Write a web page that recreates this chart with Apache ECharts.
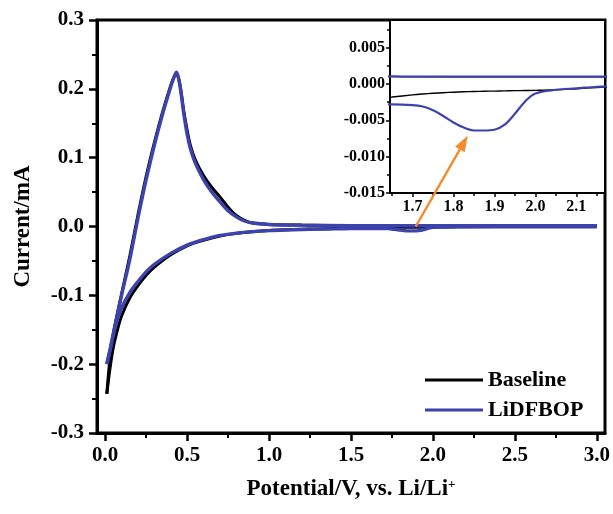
<!DOCTYPE html>
<html>
<head>
<meta charset="utf-8">
<script src="https://cdn.jsdelivr.net/npm/echarts@6/dist/echarts.min.js"></script>
<style>
  html, body { margin: 0; padding: 0; background: #fff; }
  #chart { width: 613px; height: 514px; }
</style>
</head>
<body>
<div id="chart"></div>
<script>
// Cyclic voltammetry, first cycle: cathodic sweep 3.0 V -> 0.01 V, then anodic sweep back to 3.0 V.
const cathodicPotential = [3.0, 2.6, 2.2, 2.15, 2.1, 2.05, 2.0, 1.975, 1.95, 1.925, 1.9, 1.875, 1.85, 1.825,
  1.8, 1.775, 1.75, 1.725, 1.7, 1.65, 1.6, 1.5, 1.4, 1.3, 1.2, 1.1, 1.0, 0.9, 0.8, 0.7, 0.6, 0.5, 0.4,
  0.3, 0.25, 0.2, 0.15, 0.1, 0.075, 0.05, 0.03, 0.01];
const baselineCathodic = [-0.0003, -0.0003, -0.0004, -0.0005, -0.00065, -0.0008, -0.00088, -0.0009, -0.00092,
  -0.00095, -0.00098, -0.001, -0.00104, -0.00108, -0.00113, -0.0012, -0.00128, -0.00138, -0.0015, -0.0018,
  -0.0021, -0.0026, -0.003, -0.0035, -0.004, -0.0047, -0.0057, -0.0075, -0.01, -0.014, -0.02, -0.028, -0.041,
  -0.059, -0.071, -0.086, -0.104, -0.13, -0.15, -0.175, -0.205, -0.243];
const lidfbopCathodic = [-0.0002, -0.0002, -0.0003, -0.00038, -0.0006, -0.0008, -0.0013, -0.0024, -0.0041,
  -0.0056, -0.0063, -0.0064, -0.0064, -0.006, -0.0053, -0.0044, -0.0036, -0.0031, -0.0029, -0.0028,
  -0.0028, -0.003, -0.0034, -0.0038, -0.0043, -0.005, -0.006, -0.0075, -0.0098, -0.013, -0.019, -0.027, -0.039,
  -0.055, -0.066, -0.08, -0.096, -0.118, -0.135, -0.157, -0.18, -0.2];

const anodicPotential = [0.01, 0.03, 0.05, 0.1, 0.15, 0.2, 0.25, 0.3, 0.35, 0.4, 0.42, 0.435, 0.45, 0.465,
  0.48, 0.5, 0.52, 0.55, 0.6, 0.65, 0.7, 0.75, 0.8, 0.85, 0.9, 1.0, 1.2, 1.5, 1.8, 2.0, 2.5, 3.0];
const baselineAnodic = [-0.243, -0.19, -0.155, -0.098, -0.043, 0.017, 0.073, 0.122, 0.166, 0.205, 0.217, 0.222,
  0.213, 0.193, 0.167, 0.14, 0.118, 0.097, 0.074, 0.057, 0.043, 0.028, 0.016, 0.009, 0.005, 0.003, 0.002,
  0.0012, 0.001, 0.001, 0.001, 0.001];
const lidfbopAnodic = [-0.2, -0.178, -0.155, -0.1, -0.048, 0.012, 0.068, 0.118, 0.163, 0.203, 0.217, 0.224,
  0.213, 0.19, 0.163, 0.134, 0.113, 0.092, 0.068, 0.05, 0.036, 0.023, 0.014, 0.008, 0.005, 0.003, 0.002,
  0.0012, 0.001, 0.001, 0.001, 0.001];

// Tick positions
const mainXTicks = [0, 0.5, 1.0, 1.5, 2.0, 2.5, 3.0];
const mainXMinor = [0.25, 0.75, 1.25, 1.75, 2.25, 2.75];
const mainYTicks = [-0.3, -0.2, -0.1, 0, 0.1, 0.2, 0.3];
const mainYMinor = [-0.25, -0.15, -0.05, 0.05, 0.15, 0.25];
const insetXTicks = [1.7, 1.8, 1.9, 2.0, 2.1];
const insetXMinor = [1.65, 1.75, 1.85, 1.95, 2.05, 2.15];
const insetYTicks = [-0.015, -0.01, -0.005, 0, 0.005];
const insetYMinor = [-0.0125, -0.0075, -0.0025, 0.0025, 0.0075];

// Pointer from the reduction feature on the main curve to the zoomed view
const arrowTail = [1.895, 0.0];      // main axes
const arrowHead = [1.835, -0.0071];  // inset axes

const seriesNames = ['Baseline', 'LiDFBOP'];
const seriesColors = ['#000000', '#3d43ad'];

const FONT = '"Liberation Serif", "Times New Roman", serif';
const BLACK = '#000';

function pairs(xs, ys) { return xs.map((x, i) => [x, ys[i]]); }

function majorAxis(o) {
  return Object.assign({
    type: 'value',
    splitLine: { show: false },
    axisLine: { show: true, onZero: false, lineStyle: { color: BLACK, width: o.lineWidth } },
    axisTick: { show: true, inside: false, length: o.tickLen, customValues: o.ticks,
                lineStyle: { color: BLACK, width: o.tickWidth } },
    axisLabel: { customValues: o.ticks, formatter: v => v.toFixed(o.digits), margin: o.margin,
                 fontFamily: FONT, fontWeight: 'bold', fontSize: o.fontSize, color: BLACK },
  }, o.extra || {});
}
function minorAxis(gridIndex, position, min, max, ticks, len, width) {
  return {
    type: 'value', gridIndex, position, offset: 0, min, max,
    splitLine: { show: false },
    axisLine: { show: false, onZero: false },
    axisLabel: { show: false },
    axisTick: { show: true, inside: false, length: len, customValues: ticks,
                lineStyle: { color: BLACK, width } },
  };
}

const MAIN_X = [-0.05, 3.05], MAIN_Y = [-0.3, 0.3];
const INSET_X = [1.645, 2.17], INSET_Y = [-0.015, 0.0088];

const xAxis = [
  majorAxis({ ticks: mainXTicks, digits: 1, margin: 12, fontSize: 21, lineWidth: 3, tickLen: 8, tickWidth: 2.5,
    extra: { gridIndex: 0, min: MAIN_X[0], max: MAIN_X[1], position: 'bottom',
      name: 'Potential/V, vs. Li/Li{sup|+}', nameLocation: 'middle', nameGap: 45,
      nameTextStyle: { fontFamily: FONT, fontWeight: 'bold', fontSize: 23, color: BLACK,
        rich: { sup: { fontFamily: FONT, fontWeight: 'bold', fontSize: 13, color: BLACK, verticalAlign: 'top' } } } } }),
  minorAxis(0, 'bottom', MAIN_X[0], MAIN_X[1], mainXMinor, 5, 2),
  majorAxis({ ticks: insetXTicks, digits: 1, margin: 6, fontSize: 16, lineWidth: 2, tickLen: 4, tickWidth: 1.5,
    extra: { gridIndex: 1, min: INSET_X[0], max: INSET_X[1], position: 'bottom' } }),
  minorAxis(1, 'bottom', INSET_X[0], INSET_X[1], insetXMinor, 3, 1.5),
];
const yAxis = [
  majorAxis({ ticks: mainYTicks, digits: 1, margin: 13, fontSize: 21, lineWidth: 3, tickLen: 8, tickWidth: 2.5,
    extra: { gridIndex: 0, min: MAIN_Y[0], max: MAIN_Y[1], position: 'left',
      name: 'Current/mA', nameLocation: 'middle', nameGap: 62,
      nameTextStyle: { fontFamily: FONT, fontWeight: 'bold', fontSize: 23, color: BLACK } } }),
  minorAxis(0, 'left', MAIN_Y[0], MAIN_Y[1], mainYMinor, 5, 2),
  majorAxis({ ticks: insetYTicks, digits: 3, margin: 5, fontSize: 16, lineWidth: 2, tickLen: 4, tickWidth: 1.5,
    extra: { gridIndex: 1, min: INSET_Y[0], max: INSET_Y[1], position: 'left' } }),
  minorAxis(1, 'left', INSET_Y[0], INSET_Y[1], insetYMinor, 3, 1.5),
];

const branches = [
  [pairs(cathodicPotential, baselineCathodic), pairs(anodicPotential, baselineAnodic)],
  [pairs(cathodicPotential, lidfbopCathodic), pairs(anodicPotential, lidfbopAnodic)],
];

// main view: axes 0; zoomed view: axes 2
const views = [
  { axis: 0, widths: [3.0, 3.4], z: 2 },
  { axis: 2, widths: [1.4, 2.2], z: 12 },
];
const series = [];
views.forEach(view => {
  branches.forEach((pair, s) => {
    pair.forEach(data => {
      series.push({
        type: 'line', name: seriesNames[s], data,
        xAxisIndex: view.axis, yAxisIndex: view.axis,
        showSymbol: false, smooth: 0.35, clip: true,
        itemStyle: { color: seriesColors[s] },
        lineStyle: { color: seriesColors[s], width: view.widths[s] },
        z: view.z + s,
        silent: true,
      });
    });
  });
});

const chart = echarts.init(document.getElementById('chart'), null, { renderer: 'canvas' });
chart.setOption({
  animation: false,
  backgroundColor: '#fff',
  grid: [
    { left: 97, top: 20, right: 8, bottom: 81, show: true, borderColor: BLACK, borderWidth: 3, containLabel: false },
    { left: 390, top: 20, right: 8, height: 173, show: true, backgroundColor: '#fff',
      borderColor: BLACK, borderWidth: 2, containLabel: false, z: 5 },
  ],
  legend: {
    data: seriesNames, left: 420, top: 364, orient: 'vertical', icon: 'rect',
    itemWidth: 58, itemHeight: 3, itemGap: 8, selectedMode: false,
    textStyle: { fontFamily: FONT, fontWeight: 'bold', fontSize: 22, color: BLACK },
  },
  xAxis, yAxis, series,
});

// Arrow anchored in data space on both coordinate systems
const p0 = chart.convertToPixel({ xAxisIndex: 0, yAxisIndex: 0 }, arrowTail);
const p1 = chart.convertToPixel({ xAxisIndex: 2, yAxisIndex: 2 }, arrowHead);
const dx = p1[0] - p0[0], dy = p1[1] - p0[1];
const len = Math.hypot(dx, dy), ux = dx / len, uy = dy / len;
const headLen = 16, headHalf = 5.5;
const base = [p1[0] - ux * headLen, p1[1] - uy * headLen];
const ORANGE = '#f58a2c';
chart.setOption({
  graphic: [
    { type: 'line', z: 100, silent: true,
      shape: { x1: p0[0], y1: p0[1], x2: base[0], y2: base[1] },
      style: { stroke: ORANGE, lineWidth: 2.4 } },
    { type: 'polygon', z: 100, silent: true,
      shape: { points: [p1, [base[0] - uy * headHalf, base[1] + ux * headHalf], [base[0] + uy * headHalf, base[1] - ux * headHalf]] },
      style: { fill: ORANGE } },
  ],
});
</script>
</body>
</html>
